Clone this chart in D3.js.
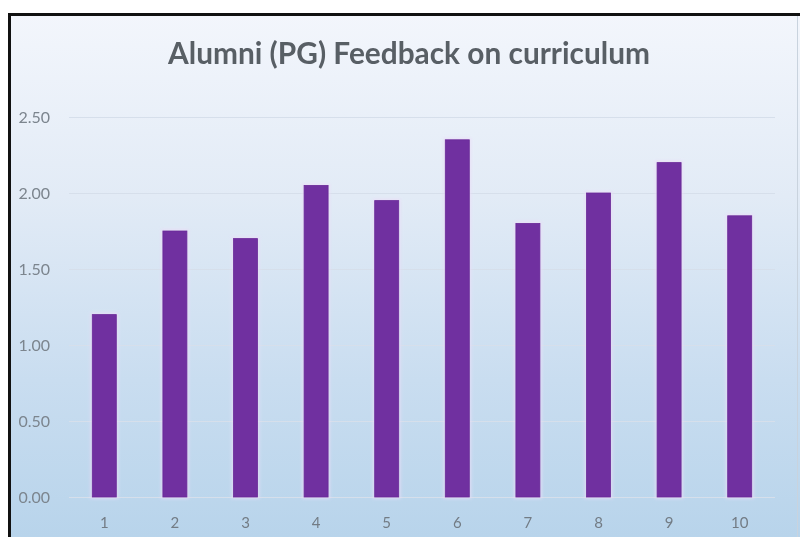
<!DOCTYPE html>
<html>
<head>
<meta charset="utf-8">
<script src="https://cdn.jsdelivr.net/npm/d3@7"></script>
<style>
  html, body { margin: 0; padding: 0; background: #ffffff; }
  svg { display: block; }
</style>
</head>
<body>
<svg id="chart" width="800" height="537"></svg>
<script>
// Survey items and their average scores
const categories = ["1", "2", "3", "4", "5", "6", "7", "8", "9", "10"];
const scores = [1.20, 1.75, 1.70, 2.05, 1.95, 2.35, 1.80, 2.00, 2.20, 1.85];
const yTicks = [0, 0.5, 1.0, 1.5, 2.0, 2.5];
const titleText = "Alumni (PG) Feedback on curriculum";

const svg = d3.select("#chart");
const W = 800, H = 537;

// Chart area background: soft vertical blue gradient
const defs = svg.append("defs");
const grad = defs.append("linearGradient")
  .attr("id", "bg").attr("x1", 0).attr("y1", 0).attr("x2", 0).attr("y2", 1);
grad.append("stop").attr("offset", "0%").attr("stop-color", "#f3f6fc");
grad.append("stop").attr("offset", "35%").attr("stop-color", "#e2ebf6");
grad.append("stop").attr("offset", "70%").attr("stop-color", "#c9ddf0");
grad.append("stop").attr("offset", "100%").attr("stop-color", "#b8d4eb");

const glow = defs.append("filter").attr("id", "glow")
  .attr("x", "-30%").attr("y", "-10%").attr("width", "160%").attr("height", "120%");
glow.append("feGaussianBlur").attr("stdDeviation", 1.5);

const soft = defs.append("filter").attr("id", "soft");
soft.append("feGaussianBlur").attr("stdDeviation", 0.45);

svg.append("rect")
  .attr("x", 8).attr("y", 13).attr("width", W - 8).attr("height", H - 13)
  .attr("fill", "url(#bg)");

// faint right edge of the chart frame
svg.append("line")
  .attr("x1", 797.5).attr("x2", 797.5).attr("y1", 16).attr("y2", H)
  .attr("stroke", "#c9d3de").attr("stroke-width", 1);

const x = d3.scaleBand()
  .domain(categories)
  .range([69, 775])
  .paddingInner(0.66)
  .paddingOuter(0.33);

const y = d3.scaleLinear()
  .domain([0, 2.5])
  .range([497, 117]);

// Horizontal gridlines and value labels
const yAxis = d3.axisLeft(y)
  .tickValues(yTicks)
  .tickSize(-(775 - 69))
  .tickPadding(19)
  .tickFormat(d3.format(".2f"));

const gy = svg.append("g")
  .attr("transform", "translate(69,0)")
  .call(yAxis);
gy.select(".domain").remove();
gy.selectAll(".tick line")
  .attr("stroke", "#d6dfeb").attr("stroke-width", 1.2);
gy.selectAll(".tick text")
  .attr("fill", "#7c858e")
  .attr("filter", "url(#soft)")
  .style("font-family", "Lato, 'Open Sans', sans-serif")
  .style("font-size", "16px");

// Category labels along the bottom
const xAxis = d3.axisBottom(x).tickSize(0).tickPadding(20);
const gx = svg.append("g")
  .attr("transform", "translate(0,497)")
  .call(xAxis);
gx.select(".domain").remove();
gx.selectAll(".tick text")
  .attr("fill", "#737c85")
  .attr("filter", "url(#soft)")
  .style("font-family", "Lato, 'Open Sans', sans-serif")
  .style("font-size", "15px");

// Bars with a faint light halo
const data = categories.map((c, i) => ({ cat: c, val: scores[i] }));

svg.append("g").selectAll("rect")
  .data(data)
  .join("rect")
  .attr("x", d => x(d.cat) - 2)
  .attr("y", d => y(d.val) - 2)
  .attr("width", x.bandwidth() + 4)
  .attr("height", d => y(0) - y(d.val) + 4)
  .attr("fill", "#eadcf7")
  .attr("opacity", 0.7)
  .attr("filter", "url(#glow)");

svg.append("g").selectAll("rect")
  .data(data)
  .join("rect")
  .attr("x", d => x(d.cat))
  .attr("y", d => y(d.val))
  .attr("width", x.bandwidth())
  .attr("height", d => y(0) - y(d.val))
  .attr("fill", "#7030a0")
  .attr("stroke", "#6a2a98")
  .attr("stroke-width", 0.8);

// Title
const title = svg.append("text")
  .attr("x", 409).attr("y", 64)
  .attr("text-anchor", "middle")
  .attr("fill", "#595e65")
  .attr("filter", "url(#soft)")
  .style("font-family", "Lato, 'Open Sans', sans-serif")
  .style("font-weight", "700")
  .style("font-size", "26px")
  .text(titleText);
const tw = title.node().getComputedTextLength();
title.style("font-size", (26 * 482 / tw).toFixed(2) + "px");

// Dark frame on the top and left edges
svg.append("path")
  .attr("d", `M9.5,${H} V14.5 H${W}`)
  .attr("fill", "none")
  .attr("stroke", "#111111")
  .attr("stroke-width", 3);
</script>
</body>
</html>
